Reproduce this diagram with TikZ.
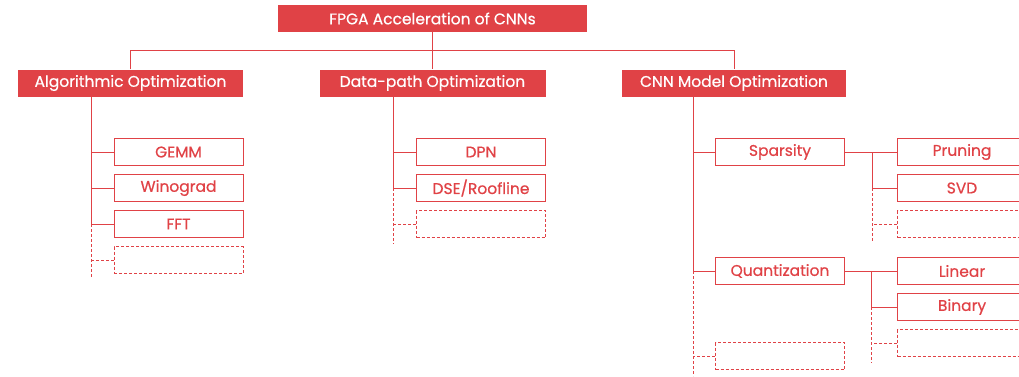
\documentclass[tikz,border=0pt]{standalone}
\usepackage{fontspec}
\setmainfont{Poppins}[FakeBold=0.6]
\usetikzlibrary{calc}
\definecolor{fpgared}{RGB}{224,66,70}

\begin{document}
\begin{tikzpicture}[x=1pt,y=-1pt,
    every node/.style={font=\fontsize{15.5}{17}\selectfont},
    head/.style={fill=fpgared,text=white,minimum height=27pt,inner sep=0pt},
    leaf/.style={draw=fpgared,line width=0.9pt,text=fpgared,minimum width=129pt,minimum height=27pt,inner sep=0pt},
    blank/.style={leaf,dash pattern=on 3pt off 2pt},
    wire/.style={draw=fpgared,line width=0.9pt},
    dwire/.style={wire,dash pattern=on 3pt off 2pt}]
  \useasboundingbox (0,0) rectangle (1019,376);
  % heads
  \node[head,minimum width=309pt] (root) at (432.5,18.5) {FPGA Acceleration of CNNs};
  \node[head,minimum width=225pt] (algo) at (130.5,83) {Algorithmic Optimization};
  \node[head,minimum width=226pt] (dp) at (432.5,83) {Data-path Optimization};
  \node[head,minimum width=224pt] (cnn) at (734,83) {CNN Model Optimization};
  \draw[wire] (root.south) -- (dp.north);
  \draw[wire] (algo.north) -- ++(0,-19) -| (cnn.north);

  % algorithmic
  \foreach \t [count=\i] in {GEMM,Winograd,FFT}
    \node[leaf] (a\i) at (178.5,116+36*\i) {\t};
  \node[blank] (a4) at (178.5,260) {};
  \coordinate (as) at ($(a1.west)+(-22,0)$);
  \draw[wire] (as |- algo.south) -- (as |- a3.west);
  \draw[dwire] (as |- a3.west) -- ($(as |- a4.west)+(0,18)$);
  \foreach \i in {1,2,3} \draw[wire] (a\i.west) -- (as |- a\i.west);
  \draw[dwire] (a4.west) -- (as |- a4.west);

  % data-path
  \foreach \t [count=\i] in {DPN,DSE/Roofline}
    \node[leaf] (d\i) at (481,116+36*\i) {\t};
  \node[blank] (d3) at (481,224) {};
  \coordinate (ds) at ($(d1.west)+(-23,0)$);
  \draw[wire] (ds |- dp.south) -- (ds |- d2.west);
  \draw[dwire] (ds |- d2.west) -- ($(ds |- d3.west)+(0,20)$);
  \foreach \i in {1,2} \draw[wire] (d\i.west) -- (ds |- d\i.west);
  \draw[dwire] (d3.west) -- (ds |- d3.west);

  % cnn model
  \node[leaf] (spar) at (780,152) {Sparsity};
  \node[leaf] (quan) at (780,271) {Quantization};
  \node[blank] (c3) at (780,356) {};
  \coordinate (cs) at ($(spar.west)+(-22,0)$);
  \draw[wire] (cs |- cnn.south) -- (cs |- quan.west);
  \draw[dwire] (cs |- quan.west) -- (cs |- 0,376);
  \draw[wire] (spar.west) -- (cs |- spar.west);
  \draw[wire] (quan.west) -- (cs |- quan.west);
  \draw[dwire] (c3.west) -- (cs |- c3.west);

  % sparsity
  \foreach \t [count=\i] in {Pruning,SVD}
    \node[leaf] (s\i) at (962,116+36*\i) {\t};
  \node[blank] (s3) at (962,224) {};
  \coordinate (ss) at ($(s1.west)+(-25,0)$);
  \draw[wire] (spar.east) -- (s1.west);
  \draw[wire] (ss |- s1.west) -- (ss |- s2.west) -- (s2.west);
  \draw[dwire] (ss |- s2.west) -- ($(ss |- s3.west)+(0,18)$);
  \draw[dwire] (s3.west) -- (ss |- s3.west);

  % quantization
  \foreach \t [count=\i] in {Linear,Binary}
    \node[leaf] (q\i) at (962,235+36*\i) {\t};
  \node[blank] (q3) at (962,343) {};
  \coordinate (qs) at ($(q1.west)+(-26,0)$);
  \draw[wire] (quan.east) -- (q1.west);
  \draw[wire] (qs |- q1.west) -- (qs |- q2.west) -- (q2.west);
  \draw[dwire] (qs |- q2.west) -- ($(qs |- q3.west)+(0,20)$);
  \draw[dwire] (q3.west) -- (qs |- q3.west);
\end{tikzpicture}
\end{document}
